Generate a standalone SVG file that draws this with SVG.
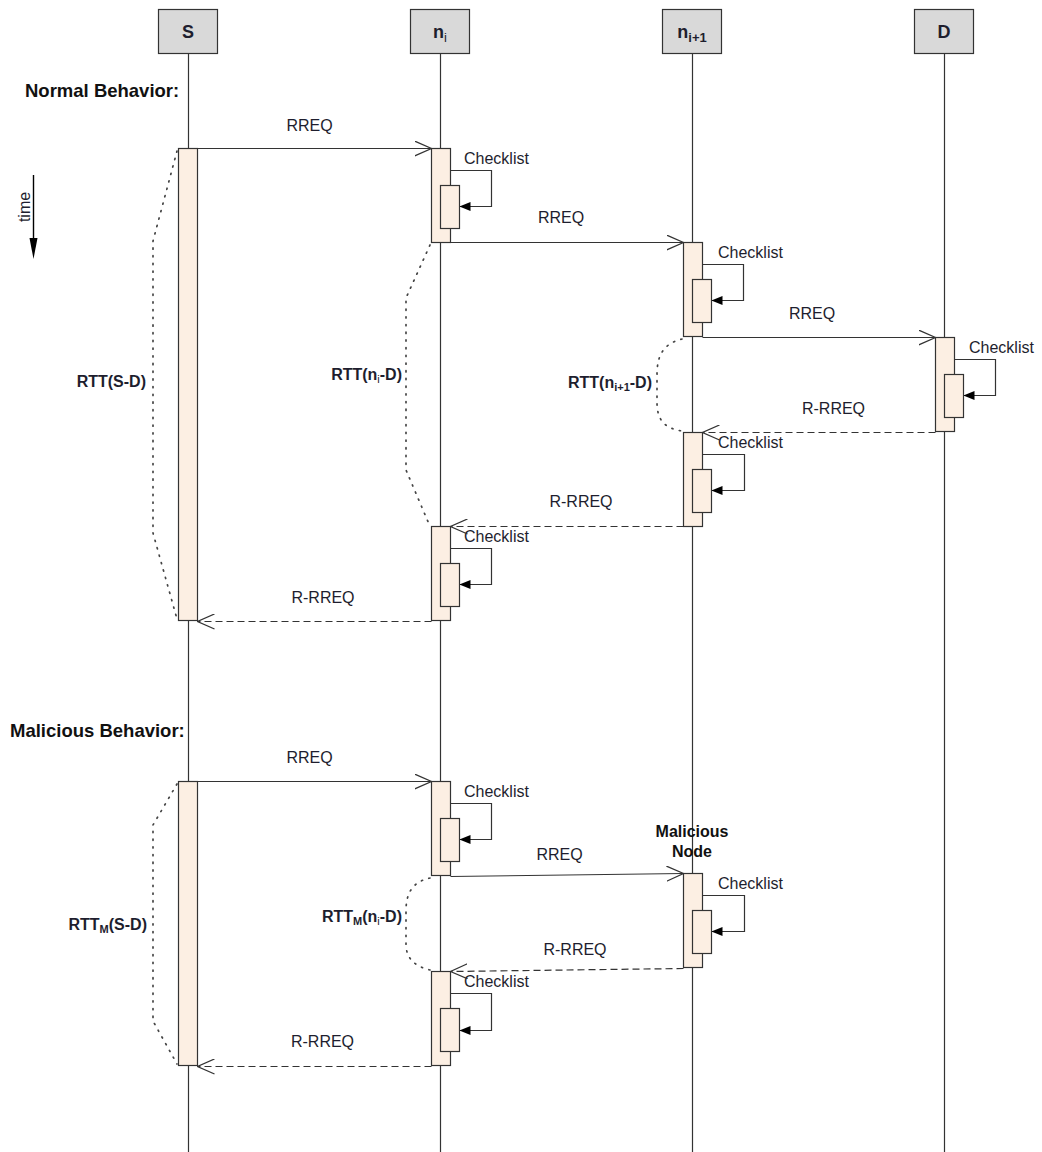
<svg xmlns="http://www.w3.org/2000/svg" width="1042" height="1152" viewBox="0 0 1042 1152">
<defs>
<style>
.hdr{fill:#d9d9d9;stroke:#333;stroke-width:1.2}
.life{stroke:#333;stroke-width:1.2;fill:none}
.act{fill:#fcefe3;stroke:#333;stroke-width:1.2}
.msg{stroke:#333;stroke-width:1.2;fill:none;marker-end:url(#open)}
.ret{stroke:#333;stroke-width:1.2;fill:none;stroke-dasharray:7 4;marker-end:url(#open)}
.loop{stroke:#333;stroke-width:1.2;fill:none;marker-end:url(#solid)}
.dot{stroke:#444;stroke-width:1.7;fill:none;stroke-dasharray:1.2 6.5;stroke-linecap:round}
text{font-family:"Liberation Sans",Arial,sans-serif;fill:#1e1e2e}
.t{font-size:16px}
.b{font-size:16px;font-weight:bold}
.h{font-size:18px;font-weight:bold}
.sec{font-size:18.5px;font-weight:bold;fill:#111}
.sub{font-size:11px}
.hsub{font-size:13px}
</style>
<marker id="open" viewBox="0 0 18 16" refX="17" refY="8" markerWidth="18" markerHeight="16" orient="auto" markerUnits="userSpaceOnUse">
<path d="M0,0.5 L17,8 L0,15.5" fill="none" stroke="#333" stroke-width="1.3"/>
</marker>
<marker id="solid" viewBox="0 0 11 9" refX="10.5" refY="4.5" markerWidth="11" markerHeight="9" orient="auto" markerUnits="userSpaceOnUse">
<path d="M0,0 L11,4.5 L0,9 z" fill="#000"/>
</marker>
</defs>
<rect width="1042" height="1152" fill="#fff"/>

<!-- lifelines -->
<g id="lifelines">
<line class="life" x1="188.5" y1="54" x2="188.5" y2="1152"/>
<line class="life" x1="440.5" y1="54" x2="440.5" y2="1152"/>
<line class="life" x1="692.5" y1="54" x2="692.5" y2="1152"/>
<line class="life" x1="944.5" y1="54" x2="944.5" y2="1152"/>
</g>

<!-- headers -->
<g id="node-S"><rect class="hdr" x="158.5" y="9.5" width="59" height="44"/><text class="h" x="188" y="38" text-anchor="middle">S</text></g>
<g id="node-ni"><rect class="hdr" x="410.5" y="9.5" width="59" height="44"/><text class="h" x="440" y="38" text-anchor="middle">n<tspan class="hsub" font-weight="normal" dy="4">i</tspan></text></g>
<g id="node-ni1"><rect class="hdr" x="662.5" y="9.5" width="59" height="44"/><text class="h" x="692" y="38" text-anchor="middle">n<tspan class="hsub" dy="4">i+1</tspan></text></g>
<g id="node-D"><rect class="hdr" x="914.5" y="9.5" width="59" height="44"/><text class="h" x="944" y="38" text-anchor="middle">D</text></g>

<!-- section labels -->
<text class="sec" x="25" y="97">Normal Behavior:</text>
<text class="sec" x="10" y="737">Malicious Behavior:</text>

<!-- time arrow -->
<g id="time">
<line x1="33.5" y1="175" x2="33.5" y2="240" stroke="#000" stroke-width="1.4"/>
<path d="M29.5,238 L37.5,238 L33.5,259 z" fill="#000"/>
<text transform="translate(30,207) rotate(-90)" text-anchor="middle" style="font-size:16px">time</text>
</g>

<!-- activations (normal) -->
<g id="act-S-1"><rect class="act" x="178.5" y="148.5" width="19" height="472"/></g>
<g id="act-ni-1"><rect class="act" x="431.5" y="148.5" width="19" height="94"/><rect class="act" x="440.5" y="185.5" width="19" height="43"/><text class="t" x="464" y="164">Checklist</text></g>
<g id="act-ni1-1"><rect class="act" x="683.5" y="242.5" width="19" height="94"/><rect class="act" x="692.5" y="279.5" width="19" height="43"/><text class="t" x="718" y="258">Checklist</text></g>
<g id="act-D-1"><rect class="act" x="935.5" y="337.5" width="19" height="94"/><rect class="act" x="944.5" y="374.5" width="19" height="43"/><text class="t" x="969" y="353">Checklist</text></g>
<g id="act-ni1-2"><rect class="act" x="683.5" y="432.5" width="19" height="94"/><rect class="act" x="692.5" y="469.5" width="19" height="43"/><text class="t" x="718" y="448">Checklist</text></g>
<g id="act-ni-2"><rect class="act" x="431.5" y="526.5" width="19" height="94"/><rect class="act" x="440.5" y="563.5" width="19" height="43"/><text class="t" x="464" y="542">Checklist</text></g>

<!-- activations (malicious) -->
<g id="act-S-2"><rect class="act" x="178.5" y="781.5" width="19" height="284"/></g>
<g id="act-ni-3"><rect class="act" x="431.5" y="781.5" width="19" height="94"/><rect class="act" x="440.5" y="818.5" width="19" height="43"/><text class="t" x="464" y="797">Checklist</text></g>
<g id="act-ni1-3"><rect class="act" x="683.5" y="873.5" width="19" height="94"/><rect class="act" x="692.5" y="910.5" width="19" height="43"/><text class="t" x="718" y="889">Checklist</text></g>
<g id="act-ni-4"><rect class="act" x="431.5" y="971.5" width="19" height="94"/><rect class="act" x="440.5" y="1008.5" width="19" height="43"/><text class="t" x="464" y="987">Checklist</text></g>

<g id="malicious-label"><text class="b" x="692" y="837" text-anchor="middle" style="fill:#111">Malicious</text><text class="b" x="692" y="857" text-anchor="middle" style="fill:#111">Node</text></g>

<!-- connectors -->
<g id="connectors">
<path class="loop" d="M450.5,170.5 H491.5 V206.5 H460"/>
<path class="loop" d="M702.5,264.5 H743.5 V300.5 H712"/>
<path class="loop" d="M954.5,359.5 H995.5 V395.5 H964"/>
<path class="loop" d="M702.5,454.5 H744.5 V490.5 H712"/>
<path class="loop" d="M450.5,548.5 H491.5 V584.5 H460"/>
<path class="loop" d="M450.5,803.5 H491.5 V839.5 H460"/>
<path class="loop" d="M702.5,895.5 H744.5 V931.5 H712"/>
<path class="loop" d="M450.5,993.5 H491.5 V1030.5 H460"/>

<path class="msg" d="M197.5,148.5 H431.5"/>
<path class="msg" d="M450.5,242.5 H683.5"/>
<path class="msg" d="M702.5,337.5 H935.5"/>
<path class="ret" d="M935.5,432.5 H702.5"/>
<path class="ret" d="M683.5,526.5 H450.5"/>
<path class="ret" d="M431.5,621.5 H197.5"/>

<path class="msg" d="M197.5,781.5 H431.5"/>
<path class="msg" d="M450.5,876.5 L683.5,873.5"/>
<path class="ret" d="M683.5,968.5 L450.5,971.5"/>
<path class="ret" d="M431.5,1066.5 H197.5"/>

<!-- RTT brackets -->
<path class="dot" d="M177,151 L153,241 L153,533 L177,619"/>
<path class="dot" d="M430,245 L406,298 L406,470 L429,524"/>
<path class="dot" d="M682,339 C662,344 657,357 657,375 L657,402 C657,420 664,428 682,431"/>
<path class="dot" d="M177,784 L153,825 L153,1021 L177,1064"/>
<path class="dot" d="M430,878 C411,882 406,895 406,911 L406,944 C406,958 414,966 430,970"/>
</g>

<!-- message labels -->
<g id="labels">
<text class="t" x="309.5" y="131" text-anchor="middle">RREQ</text>
<text class="t" x="561" y="223" text-anchor="middle">RREQ</text>
<text class="t" x="812" y="319" text-anchor="middle">RREQ</text>
<text class="t" x="833.5" y="414" text-anchor="middle">R-RREQ</text>
<text class="t" x="581" y="507" text-anchor="middle">R-RREQ</text>
<text class="t" x="323" y="603" text-anchor="middle">R-RREQ</text>
<text class="t" x="309.5" y="763" text-anchor="middle">RREQ</text>
<text class="t" x="559.5" y="860" text-anchor="middle">RREQ</text>
<text class="t" x="575" y="955" text-anchor="middle">R-RREQ</text>
<text class="t" x="322.5" y="1047" text-anchor="middle">R-RREQ</text>

<text class="b" x="146" y="387" text-anchor="end">RTT(S-D)</text>
<text class="b" x="402" y="380" text-anchor="end">RTT(n<tspan class="sub" font-weight="normal" dy="3">i</tspan><tspan dy="-3">-D)</tspan></text>
<text class="b" x="652" y="388" text-anchor="end">RTT(n<tspan class="sub" dy="3">i+1</tspan><tspan dy="-3">-D)</tspan></text>
<text class="b" x="147" y="930" text-anchor="end">RTT<tspan class="sub" dy="3">M</tspan><tspan dy="-3">(S-D)</tspan></text>
<text class="b" x="402" y="922" text-anchor="end">RTT<tspan class="sub" dy="3">M</tspan><tspan dy="-3">(n</tspan><tspan class="sub" font-weight="normal" dy="3">i</tspan><tspan dy="-3">-D)</tspan></text>
</g>
</svg>
